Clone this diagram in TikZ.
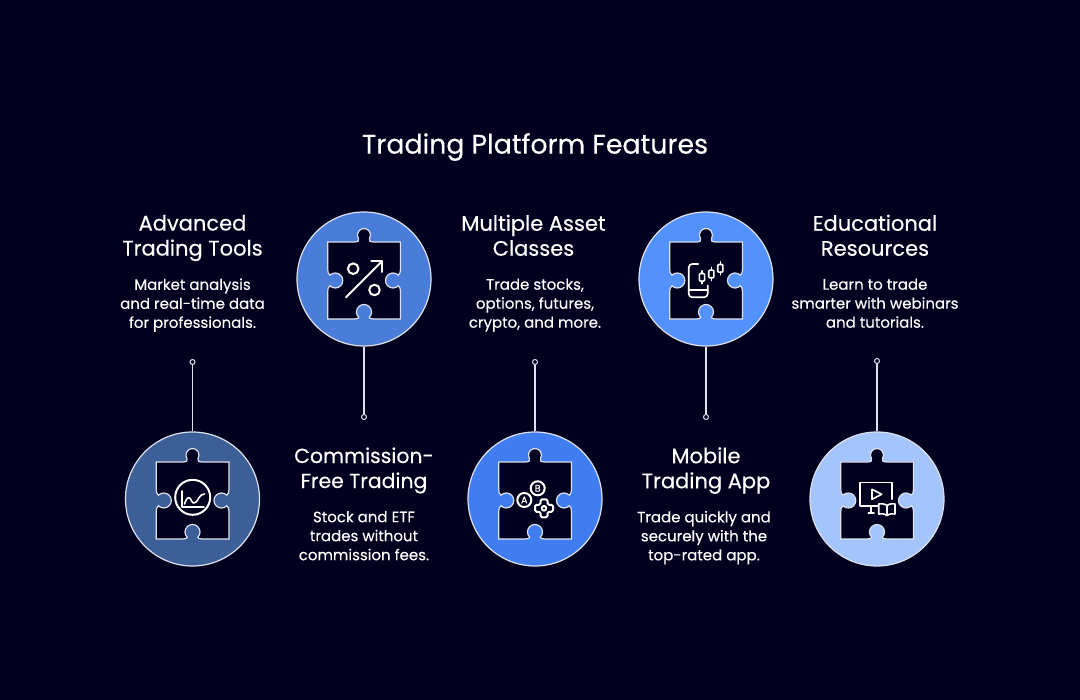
\documentclass[tikz,border=0pt]{standalone}
\usepackage{fontspec}
\setmainfont{Poppins}
\newfontfamily\headfont[FakeBold=0.3]{Poppins}
\newfontfamily\bodyfont[FakeBold=0.12]{Poppins}
\newfontfamily\iconfont[FakeBold=0.8]{Poppins}
\definecolor{bgc}{HTML}{03001F}
\definecolor{linec}{HTML}{DDE2EE}
\definecolor{cA}{HTML}{3C5F98}
\definecolor{cB}{HTML}{4A7CD9}
\definecolor{cC}{HTML}{3F7DF1}
\definecolor{cD}{HTML}{5391FC}
\definecolor{cE}{HTML}{A3C4FC}
\tikzset{
  disc/.style={circle,draw=linec,line width=1.2pt,minimum size=134pt,inner sep=0pt},
  pin/.style={circle,draw=linec,line width=1pt,fill=bgc,minimum size=5pt,inner sep=0pt},
  stem/.style={draw=linec,line width=1.2pt},
  piece/.style={draw=linec,line width=1.2pt,fill=bgc,line join=miter},
  icon/.style={draw=white,line width=2pt,line cap=round,line join=round},
  thinicon/.style={icon,line width=1.6pt},
  lettertext/.style={text=white,font=\iconfont\fontsize{9.5}{9.5}\selectfont,inner sep=0pt},
  titletext/.style={text=white,font=\headfont\fontsize{26.8}{30}\selectfont,align=center,inner sep=0pt},
  headtext/.style={text=white,font=\headfont\fontsize{21}{25}\selectfont,align=center,inner sep=0pt,execute at begin node=\strut,execute at end node=\strut},
  bodytext/.style={text=white,font=\bodyfont\fontsize{15}{19}\selectfont,align=center,inner sep=0pt,execute at begin node=\strut,execute at end node=\strut}
}
\newcommand{\puzzlepath}{%
  \path[piece] (-36.3,37) -- (-9.5,37)
    .. controls (-6,37) and (-4.5,38.5) .. (-5.5,40.5)
    arc[start angle=212,end angle=-32,radius=6.5]
    .. controls (4.5,38.5) and (6,37) .. (9.5,37)
    -- (36.5,37) -- (36.5,10)
    .. controls (36.5,7) and (36,5) .. (34.3,3.8)
    arc[start angle=45,end angle=315,radius=7.5]
    .. controls (36,-8) and (36.5,-10) .. (36.5,-13)
    -- (36.5,-40) -- (10,-40)
    .. controls (7,-40) and (5.8,-39.5) .. (5.3,-38.3)
    arc[start angle=-45,end angle=225,radius=7.5]
    .. controls (-5.8,-39.5) and (-7,-40) .. (-10,-40)
    -- (-36.3,-40) -- (-36.3,-13)
    .. controls (-36.3,-10) and (-35.8,-8) .. (-34,-6.8)
    arc[start angle=-135,end angle=135,radius=7.5]
    .. controls (-35.8,5) and (-36.3,7) .. (-36.3,10)
    -- cycle;}
\begin{document}
\begin{tikzpicture}[x=1pt,y=-1pt]
\useasboundingbox[fill=bgc] (0,0) rectangle (1080,700);
% discs
\node[disc,fill=cA] (c1) at (192.5,499) {};
\node[disc,fill=cB] (c2) at (364,279) {};
\node[disc,fill=cC] (c3) at (535,499) {};
\node[disc,fill=cD] (c4) at (706,279) {};
\node[disc,fill=cE] (c5) at (877,499) {};
% pins and connectors
\node[pin] (p1) at (192.5,362) {};
\node[pin] (p2) at (364,417) {};
\node[pin] (p3) at (535,362) {};
\node[pin] (p4) at (706,417) {};
\node[pin] (p5) at (877,361) {};
\draw[stem] (c1) -- (p1);
\draw[stem] (c2) -- (p2);
\draw[stem] (c3) -- (p3);
\draw[stem] (c4) -- (p4);
\draw[stem] (c5) -- (p5);
% piece 1
\begin{scope}[shift={(192.5,499)},yscale=-1]
\puzzlepath
\draw[icon] (0.2,1.7) circle[radius=17.5];
\draw[thinicon] (-10.8,8) -- (-10.8,-8.3) -- (11.5,-8.3);
\draw[thinicon] (-8,-5) .. controls (-6,1) and (-4,3) .. (-2,0) .. controls (0,-4) and (1,-5) .. (3.5,-3) .. controls (6,-1) and (7,5) .. (12,5);
\end{scope}
% piece 2
\begin{scope}[shift={(364,279)},yscale=-1]
\puzzlepath
\draw[icon] (-10.8,10.3) circle[radius=5.3];
\draw[icon] (10.5,-11) circle[radius=5.3];
\draw[icon] (-18,-18.3) -- (18,17.7);
\draw[icon] (7.3,17.7) -- (18,17.7) -- (18,7);
\end{scope}
% piece 3
\begin{scope}[shift={(535,499)},yscale=-1]
\puzzlepath
\draw[icon] (-10.7,-1) circle[radius=7];
\draw[icon] (2.7,10.7) circle[radius=7];
\node[lettertext] (la) at (-10.7,-1) {A};
\node[lettertext] (lb) at (2.7,10.7) {B};
\begin{scope}[shift={(9,-9.3)}]
\draw[icon,rounded corners=1.5pt] (-3.5,3.5) -- (-3.5,9) -- (3.5,9) -- (3.5,3.5) -- (9,3.5) -- (9,-3.5) -- (3.5,-3.5) -- (3.5,-9) -- (-3.5,-9) -- (-3.5,-3.5) -- (-9,-3.5) -- (-9,3.5) -- cycle;
\draw[icon] (0,0) circle[radius=2.3];
\end{scope}
\end{scope}
% piece 4
\begin{scope}[shift={(706,279)},yscale=-1]
\puzzlepath
\draw[thinicon,rounded corners=3.5pt] (-7.7,15) -- (-17.3,15) -- (-17.3,-18.3) -- (1.7,-18.3) -- (1.7,-6.5);
\draw[thinicon] (-17.3,-11) -- (1.7,-11);
\foreach \cx/\cy in {-4/1.7,5.3/5,14.3/10.7}{
  \draw[thinicon,rounded corners=1pt] (\cx-2.6,\cy-3.8) rectangle (\cx+2.6,\cy+3.8);
  \draw[thinicon] (\cx,\cy+3.8) -- (\cx,\cy+6.5);
  \draw[thinicon] (\cx,\cy-3.8) -- (\cx,\cy-6.5);
}
\end{scope}
% piece 5
\begin{scope}[shift={(877,499)},yscale=-1]
\puzzlepath
\draw[thinicon] (1.3,-7) -- (-17,-7) -- (-17,16.3) -- (14.7,16.3) -- (14.7,-0.3);
\draw[thinicon] (-6.3,-7.5) -- (-6.3,-14.3);
\draw[thinicon] (-8.7,-14.3) -- (-3,-14.3);
\draw[thinicon] (-5,9.7) -- (4.7,4.7) -- (-5,-0.3) -- cycle;
\draw[thinicon] (10,-6.5) .. controls (7,-4.5) and (4,-4.5) .. (1.7,-5) -- (1.7,-15) .. controls (4,-14.5) and (7,-14.5) .. (10,-16.5) .. controls (13,-14.5) and (16,-14.5) .. (18,-15) -- (18,-5) .. controls (16,-4.5) and (13,-4.5) .. (10,-6.5) -- (10,-16.5);
\end{scope}
% texts
\node[titletext] (title) at (535,147) {Trading Platform Features};
\node[headtext] (h1) at (192.5,239) {Advanced\\Trading Tools};
\node[bodytext] (b1) at (192.5,306) {Market analysis\\and real-time data\\for professionals.};
\node[headtext,font=\headfont\fontsize{20.4}{25}\selectfont] (h2) at (364,471.5) {Commission-\\Free Trading};
\node[bodytext] (b2) at (364,538.5) {Stock and ETF\\trades without\\commission fees.};
\node[headtext] (h3) at (533.5,239) {Multiple Asset\\Classes};
\node[bodytext] (b3) at (535,306) {Trade stocks,\\options, futures,\\crypto, and more.};
\node[headtext] (h4) at (706,471.5) {Mobile\\Trading App};
\node[bodytext] (b4) at (704,538.5) {Trade quickly and\\securely with the\\top-rated app.};
\node[headtext] (h5) at (875,239) {Educational\\Resources};
\node[bodytext] (b5) at (875,306) {Learn to trade\\smarter with webinars\\and tutorials.};
\end{tikzpicture}
\end{document}
